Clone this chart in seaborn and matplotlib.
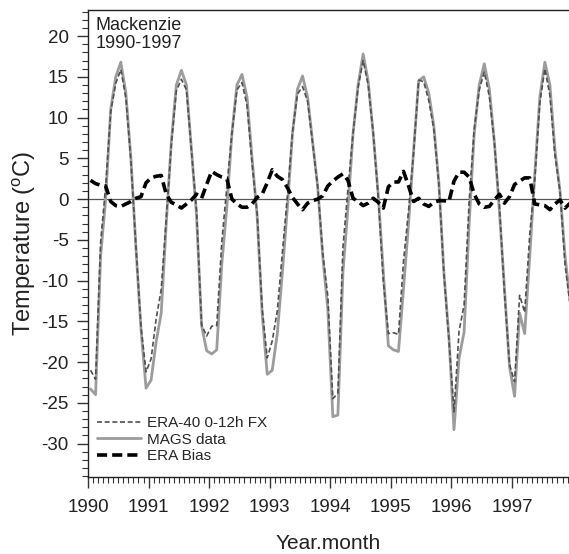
import numpy as np
import pandas as pd
import matplotlib
matplotlib.use("Agg")
import matplotlib.pyplot as plt
from matplotlib.ticker import MultipleLocator
import seaborn as sns

# ---------------- data (monthly, Jan 1990 .. Dec 1997) ----------------
years = [1990, 1991, 1992, 1993, 1994, 1995, 1996, 1997]
month_labels = ["Jan", "Feb", "Mar", "Apr", "May", "Jun",
                "Jul", "Aug", "Sep", "Oct", "Nov", "Dec"]

mags_data = [
    -23.3, -24.0, -7.0, 0.0, 11.0, 15.0, 16.8, 13.0, 5.0, -6.0, -16.0, -23.2,   # 1990
    -22.2, -17.5, -14.0, -3.0, 7.0, 14.0, 15.8, 14.0, 6.0, -2.0, -15.5, -18.6,  # 1991
    -19.0, -18.5, -8.0, -1.0, 8.0, 14.0, 15.3, 12.5, 5.0, -2.0, -14.0, -21.5,   # 1992
    -21.0, -16.5, -9.0, -1.0, 8.0, 13.5, 15.1, 12.5, 7.0, 1.5, -7.0, -13.5,     # 1993
    -26.7, -26.5, -9.0, -1.0, 8.0, 14.0, 17.8, 14.5, 8.0, 0.5, -9.0, -18.0,     # 1994
    -18.5, -18.7, -11.0, -3.0, 6.0, 14.5, 15.0, 13.0, 9.0, 2.0, -9.0, -17.0,    # 1995
    -28.3, -19.5, -16.3, -3.0, 8.0, 14.0, 16.6, 13.5, 7.0, -1.5, -11.0, -20.6,  # 1996
    -24.2, -14.0, -16.5, -7.0, 3.0, 12.5, 16.8, 14.0, 6.0, 1.0, -7.0, -12.5,    # 1997
]

era40_fx = [
    -21.0, -22.1, -5.3, 1.6, 10.7, 14.2, 15.9, 12.4, 4.7, -5.9, -15.7, -21.2,   # 1990
    -19.6, -14.7, -11.1, -2.4, 6.6, 13.3, 14.7, 13.4, 5.9, -1.4, -15.4, -16.8,  # 1991
    -15.6, -15.5, -5.3, 1.5, 8.0, 13.4, 14.3, 11.5, 4.4, -1.8, -13.4, -19.5,    # 1992
    -17.4, -13.7, -6.6, 0.4, 8.2, 12.9, 13.8, 12.0, 6.8, 1.5, -6.6, -11.9,      # 1993
    -24.5, -23.8, -5.9, 1.3, 8.1, 13.7, 17.0, 14.0, 8.1, 0.1, -10.1, -16.5,     # 1994
    -16.4, -16.6, -7.6, -1.4, 5.7, 14.6, 14.4, 12.1, 8.6, 1.8, -9.2, -17.3,     # 1995
    -26.1, -16.2, -13.0, -0.3, 8.6, 13.4, 15.6, 12.6, 6.9, -0.9, -11.5, -20.3,  # 1996
    -22.4, -11.8, -13.9, -4.4, 2.4, 11.8, 16.0, 12.7, 5.4, 0.9, -8.1, -13.0,    # 1997
]

era_bias = [
    2.3, 1.9, 1.7, 1.6, -0.3, -0.8, -0.9, -0.6, -0.3, 0.1, 0.3, 2.0,     # 1990
    2.6, 2.8, 2.9, 0.6, -0.4, -0.7, -1.1, -0.6, -0.1, 0.6, 0.1, 1.8,     # 1991
    3.4, 3.0, 2.7, 2.5, 0.0, -0.6, -1.0, -1.0, -0.6, 0.2, 0.6, 2.0,      # 1992
    3.6, 2.8, 2.4, 1.4, 0.2, -0.6, -1.3, -0.5, -0.2, 0.0, 0.4, 1.6,      # 1993
    2.2, 2.7, 3.1, 2.3, 0.1, -0.3, -0.8, -0.5, 0.1, -0.4, -1.1, 1.5,     # 1994
    2.1, 2.1, 3.4, 1.6, -0.3, 0.1, -0.6, -0.9, -0.4, -0.2, -0.2, -0.3,   # 1995
    2.2, 3.3, 3.3, 2.7, 0.6, -0.6, -1.0, -0.9, -0.1, 0.6, -0.5, 0.3,     # 1996
    1.8, 2.2, 2.6, 2.6, -0.6, -0.7, -0.8, -1.3, -0.6, -0.1, -1.1, -0.5,  # 1997
]

legend_labels = ["ERA-40 0-12h FX", "MAGS data", "ERA Bias"]
year_ticks = [1990, 1991, 1992, 1993, 1994, 1995, 1996, 1997]
temp_ticks = [20, 15, 10, 5, 0, -5, -10, -15, -20, -25, -30]

# ---------------- table ----------------
idx = pd.MultiIndex.from_product([years, range(12)], names=["year", "m"])
df = pd.DataFrame(index=idx).reset_index()
df["time"] = df["year"] + (df["m"] + 0.5) / 12.0
df["MAGS"] = mags_data
df["ERA"] = era40_fx
df["Bias"] = era_bias

# ---------------- figure ----------------
sns.set_style("ticks")
plt.rcParams["font.family"] = ["Liberation Sans", "DejaVu Sans"]
plt.rcParams["mathtext.fontset"] = "custom"
plt.rcParams["mathtext.rm"] = "Liberation Sans"

fig = plt.figure(figsize=(5.69, 5.54), dpi=100)
ax = fig.add_axes([88 / 569, 1 - 477 / 554, 1 - 88 / 569, (477 - 10) / 554])

ax.axhline(0, color="#555555", lw=0.9, zorder=1)

sns.lineplot(data=df, x="time", y="MAGS", ax=ax, color="#9c9c9c", lw=2.0,
             label=legend_labels[1], estimator=None, zorder=2)
sns.lineplot(data=df, x="time", y="ERA", ax=ax, color="#505050", lw=1.2,
             label=legend_labels[0], estimator=None, zorder=3,
             dashes=False, linestyle=(0, (3, 1.6)))
sns.lineplot(data=df, x="time", y="Bias", ax=ax, color="black", lw=2.6,
             label=legend_labels[2], estimator=None, zorder=4,
             linestyle=(0, (2.8, 1.4)))

ax.set_xlim(1990, 1997.94)
ax.set_ylim(-34.1, 23.2)
ax.set_xticks(year_ticks)
ax.set_xticklabels([str(y) for y in year_ticks])
ax.set_yticks(temp_ticks)
ax.set_yticklabels([str(t) for t in temp_ticks])
ax.xaxis.set_minor_locator(MultipleLocator(1 / 12))
ax.yaxis.set_minor_locator(MultipleLocator(1))
ax.tick_params(axis="both", which="major", length=8, width=1.0,
               labelsize=13.5, color="#333333", labelcolor="#222222")
ax.tick_params(axis="both", which="minor", length=4.5, width=0.8, color="#333333")
ax.tick_params(axis="x", which="major", pad=8)
ax.tick_params(axis="y", which="major", pad=6)

for side in ["left", "bottom", "top"]:
    ax.spines[side].set_color("#222222")
    ax.spines[side].set_linewidth(1.0)
ax.spines["right"].set_visible(False)

ax.set_xlabel("Year.month", fontsize=15, color="#222222", labelpad=13)
ax.set_ylabel("Temperature ($\\mathregular{^{o}}$C)", fontsize=17,
              color="#222222", labelpad=2)

ax.text(0.015, 0.985, "Mackenzie\n1990-1997", transform=ax.transAxes,
        ha="left", va="top", fontsize=13, color="#222222", linespacing=1.05)

handles, labels = ax.get_legend_handles_labels()
order = [labels.index(l) for l in legend_labels]
ax.legend([handles[i] for i in order], [labels[i] for i in order],
          loc="lower left", bbox_to_anchor=(9 / 481, 0.03), frameon=False,
          fontsize=11, handlelength=2.9, handletextpad=0.4,
          labelspacing=0.15, borderpad=0, borderaxespad=0)

fig.savefig("out.png", dpi=100)
